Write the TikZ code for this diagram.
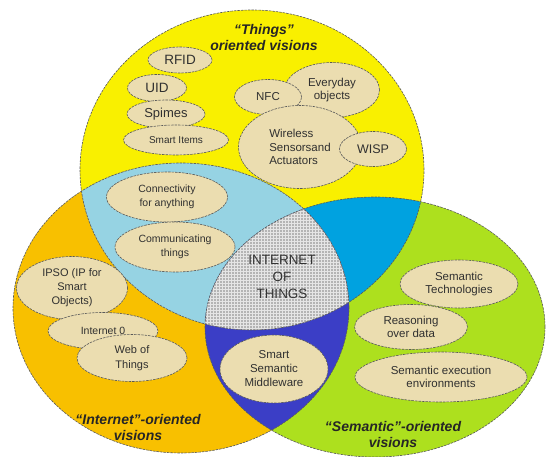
\documentclass[tikz,border=0pt]{standalone}
\usepackage{fontspec}
\setmainfont{Liberation Sans}
\usetikzlibrary{shapes.geometric,patterns}
\definecolor{cyel}{HTML}{F9F000}
\definecolor{cora}{HTML}{F8C000}
\definecolor{clbl}{HTML}{96D3E3}
\definecolor{cblu}{HTML}{00A2E0}
\definecolor{cdbl}{HTML}{3B3EC6}
\definecolor{cgrn}{HTML}{ADE01E}
\definecolor{cbei}{HTML}{EBDDB0}
\definecolor{cgry}{HTML}{B4B4B4}
\definecolor{ctxt}{HTML}{303030}
\tikzset{
  bound/.style={draw=black!65, line width=0.6pt, dash pattern=on 2.5pt off 1pt},
  item/.style={ellipse, draw=black!65, line width=0.6pt, dash pattern=on 2.5pt off 1pt,
     fill=cbei, inner sep=0pt, align=center, text=ctxt, font=\fontsize{11.5}{13.5}\selectfont},
  vtitle/.style={align=center, text=black!85, font=\fontsize{14}{18}\selectfont\bfseries\itshape},
  iot/.style={align=center, text=black!80, font=\fontsize{13.5}{17}\selectfont},
}
\begin{document}
\begin{tikzpicture}[x=1pt,y=-1pt]
\useasboundingbox (0,0) rectangle (547,457);
\def\Yell{(252,170) ellipse [x radius=172pt, y radius=160pt]}
\def\Oell{(181,308) ellipse [x radius=168pt, y radius=145pt]}
\def\Gell{(375,327) ellipse [x radius=170pt, y radius=130pt]}
% base fills
\fill[cyel] \Yell;
\fill[cora] \Oell;
\fill[cgrn] \Gell;
% pairwise intersections
\begin{scope}\clip \Yell; \fill[clbl] \Oell; \fill[cblu] \Gell; \end{scope}
\begin{scope}\clip \Oell; \fill[cdbl] \Gell; \end{scope}
\begin{scope}\clip \Yell; \clip \Oell;
  \fill[cgry] \Gell;
  \clip \Gell;
  \fill[pattern=grid, pattern color=white!80!gray] (150,180) rectangle (400,360);
\end{scope}
% boundaries
\draw[bound] \Yell;
\draw[bound] \Oell;
\draw[bound] \Gell;
% titles
\node[vtitle] (tthings) at (264,38) {“Things”\\[-2pt]oriented visions};
\node[vtitle] (tinternet) at (138,427) {“Internet”-oriented\\[-2pt]visions};
\node[vtitle] (tsemantic) at (393,434) {“Semantic”-oriented\\[-2pt]visions};
\node[iot] (iotc) at (282,277) {INTERNET\\OF\\THINGS};
% Things ellipses
\node[item, font=\fontsize{13.5}{15}\selectfont, minimum width=64pt, minimum height=26pt] (rfid) at (180,60) {RFID};
\node[item, font=\fontsize{13.5}{15}\selectfont, minimum width=59pt, minimum height=27pt] (uid) at (157,88) {UID};
\node[item, font=\fontsize{13}{15}\selectfont, minimum width=78pt, minimum height=28pt] (spimes) at (166,114) {Spimes};
\node[item, font=\fontsize{10}{12}\selectfont, minimum width=105pt, minimum height=30pt] (smartitems) at (176,140) {Smart Items};
\node[item, minimum width=95pt, minimum height=55pt] (everyday) at (332,90) {Everyday\\objects};
\node[item, minimum width=67pt, minimum height=35pt] (nfc) at (268,97) {NFC};
\node[item, minimum width=123pt, minimum height=83pt, align=left] (wsa) at (300,147) {Wireless\\Sensorsand\\Actuators};
\node[item, font=\fontsize{12.5}{14}\selectfont, minimum width=67pt, minimum height=35pt] (wisp) at (373,149) {WISP};
% Things & Internet
\node[item, font=\fontsize{10.5}{13.5}\selectfont, minimum width=121pt, minimum height=50pt] (conn) at (167,197) {Connectivity\\for anything};
\node[item, font=\fontsize{10.5}{13.5}\selectfont, minimum width=120pt, minimum height=50pt] (comm) at (175,247) {Communicating\\things};
% Internet
\node[item, font=\fontsize{11}{14}\selectfont, minimum width=111pt, minimum height=63pt] (ipso) at (72,288) {IPSO (IP for\\Smart\\Objects)};
\node[item, font=\fontsize{10.5}{12}\selectfont, minimum width=110pt, minimum height=37pt] (inet0) at (103,331) {Internet 0};
\node[item, font=\fontsize{11}{15}\selectfont, minimum width=110pt, minimum height=47pt] (wot) at (132,358) {Web of\\Things};
% Internet & Semantic
\node[item, font=\fontsize{11.5}{14}\selectfont, minimum width=108pt, minimum height=68pt] (ssm) at (274,369) {Smart\\Semantic\\Middleware};
% Semantic
\node[item, minimum width=118pt, minimum height=48pt] (semtech) at (459,284) {Semantic\\Technologies};
\node[item, minimum width=113pt, minimum height=45pt] (reason) at (411,327) {Reasoning\\over data};
\node[item, minimum width=172pt, minimum height=50pt] (semexec) at (441,377) {Semantic execution\\environments};
\end{tikzpicture}
\end{document}
